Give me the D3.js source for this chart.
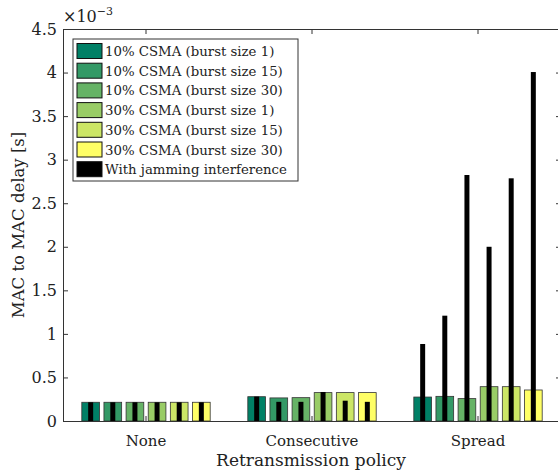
<!DOCTYPE html>
<html lang="en">
<head>
<meta charset="UTF-8">
<title>MAC to MAC delay</title>
<style>
  body { margin: 0; background: #fff; }
  svg text { font-family: 'DejaVu Serif'; fill: #222; }
</style>
</head>
<body>
<svg id="svg" width="558" height="471"></svg>
<script src="https://d3js.org/d3.v7.min.js"></script>
<script>
// retransmission policies
const categories = ["None", "Consecutive", "Spread"]
const series = [
  "10% CSMA (burst size 1)",
  "10% CSMA (burst size 15)",
  "10% CSMA (burst size 30)",
  "30% CSMA (burst size 1)",
  "30% CSMA (burst size 15)",
  "30% CSMA (burst size 30)"
]
const colors = ["#008066", "#339966", "#66b366", "#99cc66", "#cce666", "#ffff66"]
// delay values, x10^-3 s, one row per policy
const delayNone = [0.215, 0.215, 0.215, 0.215, 0.215, 0.215]
const delayConsecutive = [0.279, 0.265, 0.268, 0.326, 0.326, 0.326]
const delaySpread = [0.275, 0.283, 0.257, 0.394, 0.394, 0.356]
const jamNone = [0.215, 0.215, 0.215, 0.215, 0.215, 0.215]
const jamConsecutive = [0.28, 0.22, 0.22, 0.333, 0.233, 0.22]
const jamSpread = [0.884, 1.209, 2.824, 2.0, 2.786, 4.006]
const yTicks = [0, 0.5, 1, 1.5, 2, 2.5, 3, 3.5, 4, 4.5]

const delays = [delayNone, delayConsecutive, delaySpread]
const jams = [jamNone, jamConsecutive, jamSpread]

const serif = 'DejaVu Serif'
const svg = d3.select('#svg')
const mLeft = 63, mRight = 561, mTop = 29, mBottom = 421

const x0 = d3.scaleBand().domain(categories).range([mLeft, mRight])
const step = x0.bandwidth() * 0.8 / 6
const x1 = d3.scaleBand().domain(series).range([-3 * step, 3 * step])
  .paddingInner(0.2).paddingOuter(0.1)
const y = d3.scaleLinear().domain([0, 4.5]).range([mBottom, mTop])
const color = d3.scaleOrdinal().domain(series).range(colors)

const center = c => x0(c) + x0.bandwidth() / 2
const jamW = x0.bandwidth() * 0.03

// bars
const groups = svg.append('g').selectAll('g')
  .data(categories)
  .join('g')
  .attr('transform', c => `translate(${center(c)},0)`)

groups.selectAll('rect.val')
  .data((c, i) => series.map((s, j) => ({ s, v: delays[i][j] })))
  .join('rect')
  .attr('class', 'val')
  .attr('x', d => x1(d.s))
  .attr('width', x1.bandwidth())
  .attr('y', d => y(d.v))
  .attr('height', d => y(0) - y(d.v))
  .attr('fill', d => color(d.s))
  .attr('stroke', '#333')
  .attr('stroke-width', 0.8)

groups.selectAll('rect.jam')
  .data((c, i) => series.map((s, j) => ({ s, v: jams[i][j] })))
  .join('rect')
  .attr('class', 'jam')
  .attr('x', d => x1(d.s) + x1.bandwidth() / 2 - jamW / 2)
  .attr('width', jamW)
  .attr('y', d => y(d.v))
  .attr('height', d => y(0) - y(d.v))
  .attr('fill', '#000')

// axes box
const axisColor = '#333'
svg.append('g').attr('transform', `translate(${mLeft},0)`)
  .call(d3.axisLeft(y).tickValues(yTicks).tickSize(-5).tickPadding(6).tickFormat(d3.format('')))
  .call(g => g.select('.domain').attr('stroke', axisColor))
  .call(g => g.selectAll('line').attr('stroke', axisColor))
  .call(g => g.selectAll('text').style('font-family', serif).style('font-size', '16px'))

svg.append('g').attr('transform', `translate(${mRight},0)`)
  .call(d3.axisRight(y).tickValues(yTicks).tickSize(-5).tickFormat(''))
  .call(g => g.select('.domain').attr('stroke', axisColor))
  .call(g => g.selectAll('line').attr('stroke', axisColor))

svg.append('g').attr('transform', `translate(0,${mBottom})`)
  .call(d3.axisBottom(x0).tickSize(-5).tickPadding(14))
  .call(g => g.select('.domain').attr('stroke', axisColor))
  .call(g => g.selectAll('line').attr('stroke', axisColor))
  .call(g => g.selectAll('text').style('font-family', serif).style('font-size', '15px'))

svg.append('g').attr('transform', `translate(0,${mTop})`)
  .call(d3.axisTop(x0).tickSize(-5).tickFormat(''))
  .call(g => g.select('.domain').attr('stroke', axisColor))
  .call(g => g.selectAll('line').attr('stroke', axisColor))

// exponent label
const expo = svg.append('text').attr('x', 63).attr('y', 22)
  .style('font-family', serif).style('font-size', '16px')
expo.append('tspan').text('\u00d710')
expo.append('tspan').attr('dy', -7).style('font-size', '11px').text('\u22123')

// axis titles
svg.append('text')
  .attr('transform', `translate(24,${(mTop + mBottom) / 2}) rotate(-90)`)
  .attr('text-anchor', 'middle')
  .style('font-family', serif).style('font-size', '16.5px')
  .text('MAC to MAC delay [s]')

svg.append('text')
  .attr('x', (mLeft + mRight) / 2 - 1)
  .attr('y', 466)
  .attr('text-anchor', 'middle')
  .style('font-family', serif).style('font-size', '17px')
  .text('Retransmission policy')

// legend
const legendItems = series.map((s, i) => ({ label: s, fill: colors[i] }))
  .concat([{ label: 'With jamming interference', fill: '#000' }])
const legend = svg.append('g').attr('transform', 'translate(73,39)')
legend.append('rect')
  .attr('width', 225).attr('height', 142)
  .attr('fill', '#fff').attr('stroke', axisColor).attr('stroke-width', 1)
const rows = legend.selectAll('g.row')
  .data(legendItems)
  .join('g')
  .attr('class', 'row')
  .attr('transform', (d, i) => `translate(0,${12 + i * 19.7})`)
rows.append('rect')
  .attr('x', 4).attr('y', -7.5).attr('width', 25).attr('height', 15)
  .attr('fill', d => d.fill).attr('stroke', '#111').attr('stroke-width', 1)
rows.append('text')
  .attr('x', 32).attr('y', 5)
  .style('font-family', serif).style('font-size', '13.3px')
  .text(d => d.label)
</script>
</body>
</html>
